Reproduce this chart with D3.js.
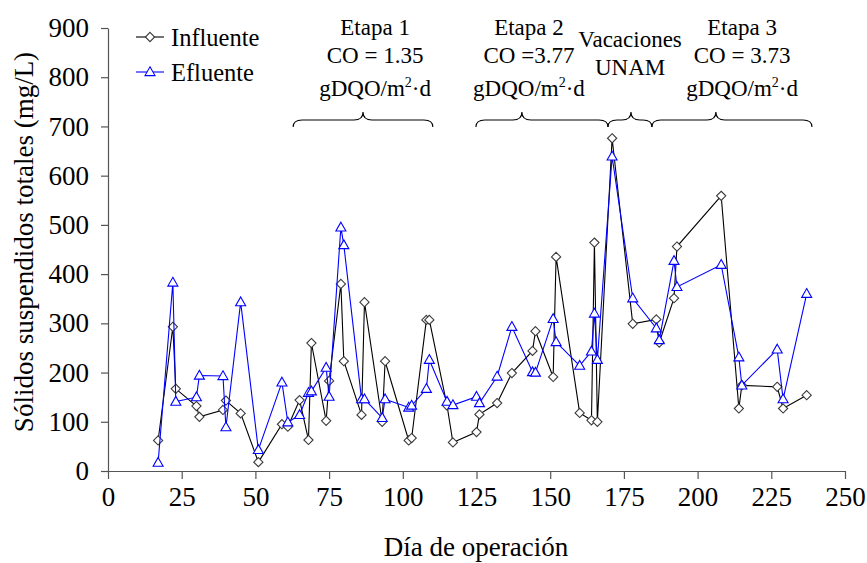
<!DOCTYPE html>
<html><head><meta charset="utf-8">
<script src="https://cdn.jsdelivr.net/npm/d3@7"></script>
<style>body{margin:0;background:#fff}</style>
</head><body>
<svg id="c" width="867" height="563"></svg>
<script>
// ---- data ----
const days = [17,22,23,30,31,39,40,45,51,59,61,65,68,69,74,75,79,80,86,87,93,94,102,103,108,109,115,117,125,126,132,137,144,145,151,152,160,164,165,166,171,178,186,187,192,193,208,214,215,227,229,237];
const influente = [62,293,167,132,110,124,143,117,18,95,90,144,63,260,102,183,380,223,114,343,100,223,62,67,307,307,133,58,79,115,138,199,244,284,191,435,118,103,464,100,676,299,308,261,351,456,559,127,174,171,127,154];
const efluente = [17,383,141,150,194,193,89,343,43,180,99,114,159,162,210,151,495,459,146,146,108,146,129,133,167,226,141,134,151,138,192,293,201,200,309,262,214,243,320,226,639,351,290,266,427,374,419,231,174,247,146,360];
const seriesNames = ["Influente","Efluente"];
const xTicks = [0,25,50,75,100,125,150,175,200,225,250];
const yTicks = [0,100,200,300,400,500,600,700,800,900];
const xTitle = "Día de operación";
const yTitle = "Sólidos suspendidos totales (mg/L)";
// stage annotations (day ranges)
const stageLabels = [["Etapa 1","CO = 1.35","gDQO/m|2|·d"],["Etapa 2","CO =3.77","gDQO/m|2|·d"],["Vacaciones","UNAM"],["Etapa 3","CO = 3.73","gDQO/m|2|·d"]];
const stageStart = [62.8,124.8,169.6,184.5];
const stageEnd   = [110.2,169.6,184.5,238.8];
const stageTip   = [86.5,140.4,177.4,206.2];
const stageText  = [90.6,142.8,177.1,215.1];

const FONT = '"Liberation Serif"';
const wctx = document.createElement("canvas").getContext("2d");
[14,23,24,27].forEach(sz=>{ wctx.font = `${sz}px ${FONT}, monospace`; wctx.measureText("Sólidos 0123456789 gDQO/m²·d"); });

// ---- layout ----
const svg = d3.select("#c");
const x = d3.scaleLinear().domain([0,250]).range([108,845]);
const y = d3.scaleLinear().domain([0,900]).range([471,28]);
const axisColor = "#555";

// axes
const gx = svg.append("g").attr("transform","translate(0,471)")
  .call(d3.axisBottom(x).tickValues(xTicks).tickSize(8).tickPadding(8).tickSizeOuter(0));
const gy = svg.append("g").attr("transform","translate(108,0)")
  .call(d3.axisLeft(y).tickValues(yTicks).tickSize(7).tickPadding(12).tickSizeOuter(0));
[gx,gy].forEach(g=>{
  g.attr("font-family",null);
  g.select(".domain").attr("stroke",axisColor).attr("stroke-width",1.2);
  g.selectAll(".tick line").attr("stroke",axisColor).attr("stroke-width",1.2);
  g.selectAll(".tick text").attr("font-size",27).attr("fill","#000").style("font-family",FONT);
});
gx.selectAll(".tick text").attr("dy","0.72em");

function T(sel){ return sel.append("text").style("font-family",FONT).attr("fill","#000"); }
T(svg).attr("x",476).attr("y",556).attr("text-anchor","middle").attr("font-size",27).text(xTitle);
T(svg).attr("transform","translate(33,242) rotate(-90)").attr("text-anchor","middle").attr("font-size",27).text(yTitle);

// series
const diamond = "M0,-4.6L4.6,0L0,4.6L-4.6,0Z";
const triangle = "M0,-5.2L5,3.6L-5,3.6Z";
const styles = [
  {vals:influente, line:"#000", mk:"#3a3a3a", path:diamond},
  {vals:efluente, line:"#0000ff", mk:"#0000ff", path:triangle}
];
const line = d3.line().x(d=>x(d[0])).y(d=>y(d[1]));
styles.forEach(s=>{
  const pts = days.map((d,i)=>[d,s.vals[i]]);
  svg.append("path").attr("d",line(pts)).attr("fill","none").attr("stroke",s.line).attr("stroke-width",1.1);
  svg.append("g").selectAll("path").data(pts).join("path")
    .attr("d",s.path).attr("transform",d=>`translate(${x(d[0])},${y(d[1])})`)
    .attr("fill","#fff").attr("stroke",s.mk).attr("stroke-width",1.1);
});

// legend
seriesNames.forEach((n,i)=>{
  const ly = i===0?37:72;
  const st = styles[i];
  svg.append("line").attr("x1",136).attr("x2",164).attr("y1",ly).attr("y2",ly).attr("stroke",st.line).attr("stroke-width",1.1);
  svg.append("path").attr("d",st.path).attr("transform",`translate(150,${ly})`).attr("fill","#fff").attr("stroke",st.mk).attr("stroke-width",1.1);
  T(svg).attr("x",171).attr("y",ly+9).attr("font-size",24.5).text(n);
});

// braces
function brace(x0,x1,xp,yEnd,yLine,yPeak,r){
  return `M${x0},${yEnd}Q${x0},${yLine} ${x0+r},${yLine}L${xp-r},${yLine}Q${xp},${yLine} ${xp},${yPeak}Q${xp},${yLine} ${xp+r},${yLine}L${x1-r},${yLine}Q${x1},${yLine} ${x1},${yEnd}`;
}
stageStart.forEach((s,i)=>{
  svg.append("path").attr("d",brace(x(s),x(stageEnd[i]),x(stageTip[i]),127,120,112,9))
    .attr("fill","none").attr("stroke","#000").attr("stroke-width",1.1);
  const lines = stageLabels[i];
  const baselines = lines.length===3?[35,63,96]:[47,75];
  lines.forEach((t,j)=>{
    const tx = T(svg).attr("x",x(stageText[i])).attr("y",baselines[j]).attr("text-anchor","middle").attr("font-size",23);
    const parts = t.split("|");
    if(parts.length===3){
      tx.append("tspan").text(parts[0]);
      tx.append("tspan").attr("dy",-9).attr("font-size",14).text(parts[1]);
      tx.append("tspan").attr("dy",9).text(parts[2]);
    } else tx.text(t);
  });
});
</script>
</body></html>
